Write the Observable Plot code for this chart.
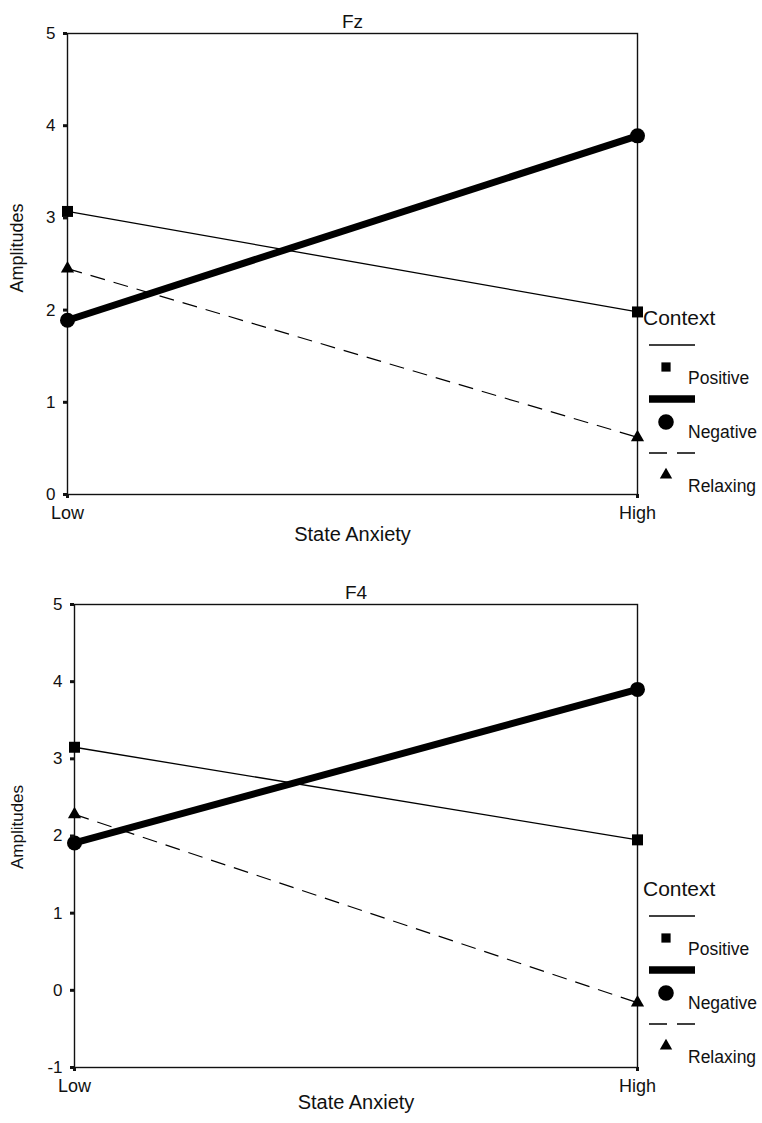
<!DOCTYPE html>
<html>
<head>
<meta charset="utf-8">
<script src="https://cdn.jsdelivr.net/npm/d3@7"></script>
<script src="https://cdn.jsdelivr.net/npm/@observablehq/plot@0.6"></script>
<style>
  html, body { margin: 0; padding: 0; background: #fff; }
  body { width: 762px; font-family: "Liberation Sans", Arial, sans-serif; }
  .panel { position: relative; width: 762px; }
  .panel svg.legend { position: absolute; left: 0; top: 0; pointer-events: none; }
</style>
</head>
<body>
<div id="charts"></div>
<script>
// ---- data ----
const levels = ["Low", "High"];
const contexts = ["Positive", "Negative", "Relaxing"];

const fzPositive = [3.07, 1.98];
const fzNegative = [1.89, 3.89];
const fzRelaxing = [2.45, 0.62];

const f4Positive = [3.15, 1.95];
const f4Negative = [1.91, 3.90];
const f4Relaxing = [2.28, -0.16];

const fzTicks = [0, 1, 2, 3, 4, 5];
const f4Ticks = [-1, 0, 1, 2, 3, 4, 5];

const xLabel = "State Anxiety";
const yLabel = "Amplitudes";
const legendTitle = "Context";

// ---- styles per context ----
const styles = {
  Positive: {strokeWidth: 1.3, dash: null, symbol: "square", r: 6.2},
  Negative: {strokeWidth: 7, dash: null, symbol: "circle", r: 7.5},
  Relaxing: {strokeWidth: 1.2, dash: "15,9", symbol: "triangle", r: 4.9}
};

function rows(pos, neg, rel) {
  const series = {Positive: pos, Negative: neg, Relaxing: rel};
  return contexts.flatMap(c => levels.map((l, i) => ({context: c, level: l, value: series[c][i]})));
}

function panel({title, data, yDomain, yTicks, height, mt, mb, ml, ylabelSize, ylabelDx, ylabelDy, xlabelDy, titleDy}) {
  const marks = [Plot.frame({stroke: "#111", strokeWidth: 1.4})];
  for (const c of contexts) {
    const s = styles[c];
    const d = data.filter(r => r.context === c);
    marks.push(Plot.line(d, {x: "level", y: "value", stroke: "black", strokeWidth: s.strokeWidth, strokeDasharray: s.dash, strokeLinecap: "butt"}));
  }
  for (const c of contexts) {
    const s = styles[c];
    const d = data.filter(r => r.context === c);
    marks.push(Plot.dot(d, {x: "level", y: "value", symbol: () => s.symbol, r: s.r, fill: "black", stroke: "none"}));
  }
  marks.push(
    Plot.axisY({ticks: yTicks, tickSize: 4, strokeWidth: 3, tickPadding: 8, fontSize: 17, label: null, tickFormat: d => String(d).replace("−", "-")}),
    Plot.axisX({tickSize: 4, strokeWidth: 3, tickPadding: 8, fontSize: 18, label: null}),
    Plot.text([title], {frameAnchor: "top", dy: titleDy, fontSize: 19, fill: "#111"}),
    Plot.text([xLabel], {frameAnchor: "bottom", dy: xlabelDy, fontSize: 20, fill: "#111"}),
    Plot.text([yLabel], {frameAnchor: "left", textAnchor: "middle", rotate: -90, dx: ylabelDx, dy: ylabelDy, fontSize: ylabelSize, fill: "#111"})
  );
  const chart = Plot.plot({
    width: 762,
    height,
    marginTop: mt,
    marginBottom: mb,
    marginLeft: ml,
    marginRight: 125,
    style: {fontFamily: "'Liberation Sans', Arial, sans-serif", color: "#111", background: "white", overflow: "visible"},
    x: {type: "point", domain: levels, padding: 0},
    y: {domain: yDomain},
    marks
  });

  const wrap = document.createElement("div");
  wrap.className = "panel";
  wrap.appendChild(chart);

  // legend
  const svg = d3.create("svg").attr("class", "legend").attr("width", 762).attr("height", height)
    .style("font-family", "'Liberation Sans', Arial, sans-serif");
  const T = mt;
  const lx0 = 649, lx1 = 695, mx = 666, tx = 688;
  svg.append("text").attr("x", 643).attr("y", T + 285).attr("dy", "0.35em")
    .attr("font-size", 21).attr("fill", "#111").text(legendTitle);
  const offs = {Positive: 0, Negative: 54, Relaxing: 108};
  for (const c of contexts) {
    const s = styles[c], o = T + 312 + offs[c];
    svg.append("line").attr("x1", lx0).attr("x2", lx1).attr("y1", o).attr("y2", o)
      .attr("stroke", "black").attr("stroke-width", c === "Negative" ? 7.5 : 1.3)
      .attr("stroke-dasharray", s.dash ? "18,10" : null);
    const sym = {square: d3.symbolSquare, circle: d3.symbolCircle, triangle: d3.symbolTriangle}[s.symbol];
    const rr = c === "Positive" ? 5.2 : c === "Negative" ? 7.8 : 4.6;
    svg.append("path").attr("transform", `translate(${mx},${o + 22 + (c === "Negative" ? 1 : 0)})`)
      .attr("d", d3.symbol(sym, rr * rr * Math.PI)()).attr("fill", "black");
    svg.append("text").attr("x", tx).attr("y", o + 33).attr("dy", "0.35em")
      .attr("font-size", 17.5).attr("fill", "#111").text(c);
  }
  wrap.appendChild(svg.node());
  return wrap;
}

const root = document.getElementById("charts");
root.appendChild(panel({
  title: "Fz", data: rows(fzPositive, fzNegative, fzRelaxing), yDomain: [0, 5], yTicks: fzTicks,
  height: 560, mt: 33, mb: 66, ml: 67, ylabelSize: 18, ylabelDx: -50, ylabelDy: -16, xlabelDy: 46, titleDy: -19
}));
root.appendChild(panel({
  title: "F4", data: rows(f4Positive, f4Negative, f4Relaxing), yDomain: [-1, 5], yTicks: f4Ticks,
  height: 563, mt: 44, mb: 56, ml: 74, ylabelSize: 17, ylabelDx: -57, ylabelDy: -9, xlabelDy: 41, titleDy: -19
}));
</script>
</body>
</html>
